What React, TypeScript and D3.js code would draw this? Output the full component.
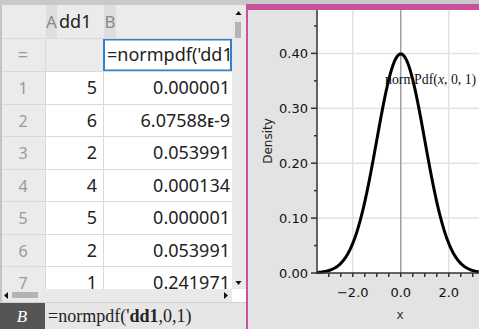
import React from "react";
import * as d3 from "d3";

const rowLabels = ["1", "2", "3", "4", "5", "6", "7"];
const colA = [5, 6, 2, 4, 5, 2, 1];
const colB = ["0.000001", "6.07588E-9", "0.053991", "0.000134", "0.000001", "0.053991", "0.241971"];
const yTicks = [0, 0.1, 0.2, 0.3, 0.4];
const yMinor = [0.05, 0.15, 0.25, 0.35, 0.45];
const xLabels = [-2, 0, 2];
const xMinor = [-3, -2.5, -1.5, -1, -0.5, 0.5, 1, 1.5, 2.5, 3];
const MU = 0;
const SIGMA = 1;

const sans = "'DejaVu Sans', sans-serif";
const cellFont = "'Noto Sans', sans-serif";
const serif = "'Liberation Serif', 'DejaVu Serif', serif";
const magenta = "#c8529d";

export default function App() {
  const W = 479, H = 329;
  const x = d3.scaleLinear().domain([-3.49, 3.26]).range([317, 479]);
  const y = d3.scaleLinear().domain([0, 0.479]).range([273, 10]);
  const pdf = (t: number) => Math.exp(-((t - MU) ** 2) / (2 * SIGMA * SIGMA)) / (SIGMA * Math.sqrt(2 * Math.PI));
  const pts = d3.range(-3.49, 3.27, 0.02).map((t) => [t, pdf(t)] as [number, number]);
  const line = d3.line<[number, number]>().x((d) => x(d[0])).y((d) => y(d[1]));

  const rowTop0 = 71;
  const rowH = 32.5;
  const fmt = (v: number) => v.toFixed(2);

  return (
    <svg width={W} height={H} style={{ position: "fixed", left: 0, top: 0, background: "#fff" }}>
      {/* spreadsheet */}
      <rect x={0} y={0} width={W} height={5} fill="#c9c9c9" />
      <rect x={0} y={5} width={246} height={H - 5} fill="#fff" />
      {/* header row */}
      <rect x={2} y={5} width={230} height={33} fill="#ebebeb" />
      <rect x={46} y={5} width={11} height={33} fill="#dedede" />
      <rect x={104} y={5} width={12} height={33} fill="#dedede" />
      <text x={51.5} y={28} fontFamily={cellFont} fontSize={17} fill="#8a8a8a" textAnchor="middle">A</text>
      <text x={59} y={28} fontFamily={cellFont} fontSize={18} fill="#222">dd1</text>
      <text x={110} y={28} fontFamily={cellFont} fontSize={17} fill="#8a8a8a" textAnchor="middle">B</text>
      {/* formula row */}
      <rect x={2} y={38} width={230} height={33} fill="#ebebeb" />
      <text x={23} y={61} fontFamily={cellFont} fontSize={18} fill="#9a9a9a" textAnchor="middle">=</text>
      <rect x={104} y={39.5} width={127} height={31} fill="#fff" stroke="#2f7fd3" strokeWidth={2} />
      <clipPath id="bclip"><rect x={105} y={40} width={125} height={30} /></clipPath>
      <text x={107} y={61} fontFamily={cellFont} fontSize={18} fill="#222" clipPath="url(#bclip)">=normpdf('dd1</text>
      {/* row number column */}
      <rect x={2} y={rowTop0} width={43} height={218} fill="#ebebeb" />
      <clipPath id="rowsclip"><rect x={0} y={rowTop0} width={232} height={218} /></clipPath>
      <g clipPath="url(#rowsclip)">
        {rowLabels.map((r, i) => {
          const top = rowTop0 + i * rowH;
          const cy = top + 23;
          return (
            <g key={r}>
              <line x1={2} x2={232} y1={Math.round(top) + 0.5} y2={Math.round(top) + 0.5} stroke="#d9d9d9" />
              <text x={23} y={cy} fontFamily={cellFont} fontSize={16} fill="#9a9a9a" textAnchor="middle">{r}</text>
              <text x={97} y={cy} fontFamily={cellFont} fontSize={18} fill="#222" textAnchor="end">{colA[i]}</text>
              {colB[i].includes("E") ? (
                <text x={230} y={cy} fontFamily={cellFont} fontSize={18} fill="#222" textAnchor="end">
                  {colB[i].split("E")[0]}
                  <tspan fontSize={12} fontWeight="bold">E</tspan>
                  {colB[i].split("E")[1]}
                </text>
              ) : (
                <text x={230} y={cy} fontFamily={cellFont} fontSize={18} fill="#222" textAnchor="end">{colB[i]}</text>
              )}
            </g>
          );
        })}
        <line x1={45.5} x2={45.5} y1={rowTop0} y2={289} stroke="#d9d9d9" />
        <line x1={103.5} x2={103.5} y1={rowTop0} y2={289} stroke="#d9d9d9" />
      </g>
      <line x1={2} x2={232} y1={38.5} y2={38.5} stroke="#d9d9d9" />
      <line x1={45.5} x2={45.5} y1={38} y2={71} stroke="#d9d9d9" />
      <rect x={0} y={5} width={2} height={H - 5} fill="#c4c4c4" />
      {/* vertical scrollbar */}
      <rect x={232} y={5} width={14} height={284} fill="#e9e9e9" />
      <path d="M235.5,15 L238.5,11 L241.5,15 Z" fill="#111" />
      <rect x={235} y={22} width={6} height={16} fill="#b3b3b3" />
      <path d="M235.5,281 L238.5,285 L241.5,281 Z" fill="#111" />
      {/* horizontal scrollbar */}
      <rect x={2} y={289} width={230} height={13} fill="#e9e9e9" />
      <path d="M8,292 L4,295.5 L8,299 Z" fill="#111" />
      <rect x={12} y={292} width={26} height={6} fill="#b3b3b3" />
      <path d="M224,292 L228,295.5 L224,299 Z" fill="#111" />
      <rect x={232} y={289} width={13} height={13} fill="#fff" />
      {/* formula bar */}
      <rect x={0} y={302} width={246} height={27} fill="#e6e6e6" />
      <line x1={0} x2={246} y1={302.5} y2={302.5} stroke="#cfcfcf" />
      <rect x={0} y={303} width={45} height={26} fill="#555" />
      <text x={22} y={322} fontFamily={serif} fontSize={17} fontStyle="italic" fill="#fff" textAnchor="middle">B</text>
      <text x={48} y={322} fontFamily={serif} fontSize={18} fill="#222">
        =normpdf(<tspan>'</tspan><tspan fontWeight="bold">dd1</tspan>,0,1)
      </text>

      {/* graph panel */}
      <rect x={246} y={5} width={233} height={H - 5} fill="#e3e3e3" />
      <rect x={246} y={4} width={233} height={6} fill={magenta} />
      <rect x={246} y={4} width={2} height={H - 4} fill={magenta} />
      <rect x={317} y={10} width={162} height={263} fill="#fff" />
      {/* grid */}
      {yTicks.filter((t) => t > 0).map((t) => (
        <line key={"gy" + t} x1={317} x2={479} y1={y(t)} y2={y(t)} stroke="#e2e2e2" strokeWidth={1.5} />
      ))}
      {xLabels.filter((t) => t !== 0).map((t) => (
        <line key={"gx" + t} x1={x(t)} x2={x(t)} y1={10} y2={273} stroke="#e2e2e2" strokeWidth={1.5} />
      ))}
      <line x1={x(0)} x2={x(0)} y1={10} y2={273} stroke="#9e9e9e" strokeWidth={1.5} />
      {/* curve */}
      <clipPath id="plotclip"><rect x={317} y={10} width={162} height={264} /></clipPath>
      <path d={line(pts) || ""} fill="none" stroke="#000" strokeWidth={3} clipPath="url(#plotclip)" />
      {/* axes */}
      <line x1={317} x2={317} y1={10} y2={274} stroke="#333" strokeWidth={1.5} />
      <line x1={316} x2={479} y1={273} y2={273} stroke="#333" strokeWidth={1.5} />
      {yTicks.map((t) => (
        <g key={"yt" + t}>
          <line x1={311} x2={317} y1={y(t)} y2={y(t)} stroke="#333" strokeWidth={1.5} />
          <text x={308} y={y(t) + 4.5} fontFamily={sans} fontSize={13} fill="#111" textAnchor="end">{fmt(t)}</text>
        </g>
      ))}
      {yMinor.map((t) => (
        <line key={"ym" + t} x1={314} x2={317} y1={y(t)} y2={y(t)} stroke="#333" strokeWidth={1.5} />
      ))}
      {xMinor.concat(xLabels).map((t) => (
        <line key={"xt" + t} x1={x(t)} x2={x(t)} y1={273} y2={277} stroke="#333" strokeWidth={1.5} />
      ))}
      {xLabels.map((t) => (
        <text key={"xl" + t} x={x(t)} y={297} fontFamily={sans} fontSize={13} fill="#111" textAnchor="middle">
          {t < 0 ? "\u2212" + Math.abs(t).toFixed(1) : t.toFixed(1)}
        </text>
      ))}
      <text x={400} y={319} fontFamily={sans} fontSize={12} fill="#333" textAnchor="middle">x</text>
      <text transform="translate(272,141) rotate(-90)" fontFamily={sans} fontSize={12} fill="#222" textAnchor="middle">Density</text>
      <text x={385} y={84} fontFamily={serif} fontSize={13.8} fill="#111">
        normPdf(<tspan fontStyle="italic">x</tspan>, 0, 1)
      </text>
    </svg>
  );
}
